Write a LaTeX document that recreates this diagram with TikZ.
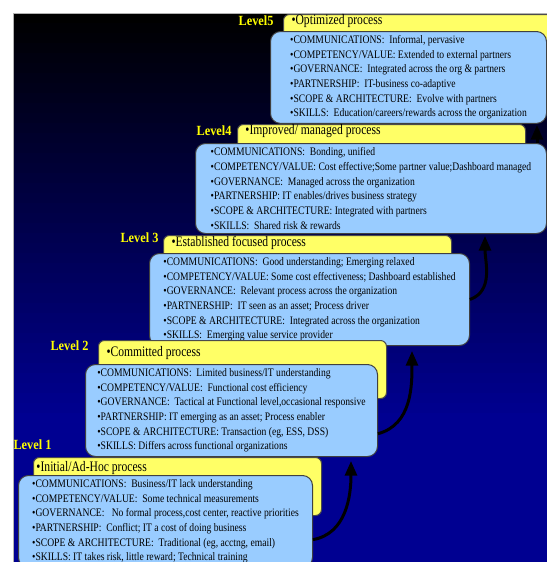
\documentclass[tikz,border=0pt]{standalone}
\usepackage{fontspec}
\setmainfont{Liberation Serif}
\newfontfamily\boxfont[FakeStretch=0.84]{Liberation Serif}
\newfontfamily\headfont[FakeStretch=0.8]{Liberation Serif}
\newfontfamily\levelfont[FakeStretch=0.88]{Liberation Serif}
\usetikzlibrary{arrows.meta}

\definecolor{barYellow}{RGB}{255,255,102}
\definecolor{boxBlue}{RGB}{153,204,255}
\definecolor{deepBlue}{RGB}{0,0,145}
\definecolor{levelYellow}{RGB}{255,255,0}

\tikzset{every picture/.style={line width=0.75pt}}
\tikzset{
  yellowbar/.style={draw=black!70, fill=barYellow, rounded corners=4.5pt, minimum width=216pt, minimum height=43.5pt, anchor=north west, inner sep=0pt},
  bluebox/.style={draw=black!75, fill=boxBlue, rounded corners=7.5pt, anchor=north west, align=left, inner xsep=7.5pt, inner ysep=3pt, font=\boxfont\fontsize{8.6}{11}\selectfont},
  headtext/.style={anchor=west, inner sep=0.75pt, font=\headfont\fontsize{10.9}{12}\selectfont},
  leveltext/.style={anchor=east, inner sep=0.75pt, text=levelYellow, font=\levelfont\bfseries\fontsize{10.5}{12}\selectfont},
  climb/.style={line width=2.25pt, -{Triangle[length=11pt,width=9pt]}}
}

\begin{document}
\begin{tikzpicture}[x=0.75pt,y=0.75pt,yscale=-1,xscale=1]
\useasboundingbox (0,0) rectangle (547,562);

%Shape: Background, black at the top fading to deep blue
\fill [deepBlue] (13,420) rectangle (550,565);
\foreach \i in {0,...,40}{
  \pgfmathsetmacro{\p}{\i*100/40}
  \fill [deepBlue!\p!black] (13,13+\i*10) rectangle (550,23.6+\i*10);
}
\draw [black!30, line width=0.5pt] (550,13) -- (13,13) -- (13,565);

%Shape: Level 5
\node (y5) [yellowbar] at (283,14) {};
\node (l5) [leveltext] at (275,21) {Level5};
\node (h5) [headtext] at (290,21) {•Optimized process};
\node (b5) [bluebox, minimum width=207pt, minimum height=68.25pt] at (270,31) {•COMMUNICATIONS: ~Informal, pervasive\\•COMPETENCY/VALUE: Extended to external partners\\•GOVERNANCE: ~Integrated across the org \& partners\\•PARTNERSHIP: ~IT-business co-adaptive\\•SCOPE \& ARCHITECTURE: ~Evolve with partners\\•SKILLS: ~Education/careers/rewards across the organization};

%Shape: Level 4
\node (y4) [yellowbar] at (237,124) {};
\node (l4) [leveltext] at (233,131) {Level4};
\node (h4) [headtext] at (244,131) {•Improved/ managed process};
\node (b4) [bluebox, minimum width=263.25pt, minimum height=67.5pt] at (195,143) {•COMMUNICATIONS: ~Bonding, unified\\•COMPETENCY/VALUE: Cost effective;Some partner value;Dashboard managed\\•GOVERNANCE: ~Managed across the organization\\•PARTNERSHIP: IT enables/drives business strategy\\•SCOPE \& ARCHITECTURE: Integrated with partners\\•SKILLS: ~Shared risk \& rewards};

%Shape: Level 3
\node (y3) [yellowbar] at (163,235) {};
\node (l3) [leveltext] at (160,238) {Level 3};
\node (h3) [headtext] at (170,243) {•Established focused process};
\node (b3) [bluebox, minimum width=240pt, minimum height=69pt] at (149,253) {•COMMUNICATIONS: ~Good understanding; Emerging relaxed\\•COMPETENCY/VALUE: Some cost effectiveness; Dashboard established\\•GOVERNANCE: ~Relevant process across the organization\\•PARTNERSHIP: ~IT seen as an asset; Process driver\\•SCOPE \& ARCHITECTURE: ~Integrated across the organization\\•SKILLS: ~Emerging value service provider};

%Shape: Level 2
\node (y2) [yellowbar] at (98,340) {};
\node (l2) [leveltext] at (90,346) {Level 2};
\node (h2) [headtext] at (105,353) {•Committed process};
\node (b2) [bluebox, minimum width=219pt, minimum height=69pt] at (85,364) {•COMMUNICATIONS: ~Limited business/IT understanding\\•COMPETENCY/VALUE: ~Functional cost efficiency\\•GOVERNANCE: ~Tactical at Functional level,occasional responsive\\•PARTNERSHIP: IT emerging as an asset; Process enabler\\•SCOPE \& ARCHITECTURE: Transaction (eg, ESS, DSS)\\•SKILLS: Differs across functional organizations};

%Shape: Level 1
\node (y1) [yellowbar] at (33,457) {};
\node (l1) [leveltext] at (53,445) {Level 1};
\node (h1) [headtext] at (35,468) {•Initial/Ad-Hoc process};
\node (b1) [bluebox, minimum width=220.5pt, minimum height=69pt] at (18,475) {•COMMUNICATIONS: ~Business/IT lack understanding\\•COMPETENCY/VALUE: ~Some technical measurements\\•GOVERNANCE: ~ No formal process,cost center, reactive priorities\\•PARTNERSHIP: ~Conflict; IT a cost of doing business\\•SCOPE \& ARCHITECTURE: ~Traditional (eg, acctng, email)\\•SKILLS: IT takes risk, little reward; Technical training};

%Straight Lines: arrow tips
\coordinate (t1) at (351,461);
\coordinate (t2) at (412,351);
\coordinate (t3) at (485,236);
\coordinate (t4) at (537,125);

\draw [climb] (b1.-7) to[out=-10,in=90] (t1);
\draw [climb] (b2.-9) to[out=-15,in=90] (t2);
\draw [climb] (b3.east) to[out=-20,in=90] (t3);
\draw [climb] (b4.north -| t4) -- (t4);

\end{tikzpicture}
\end{document}
